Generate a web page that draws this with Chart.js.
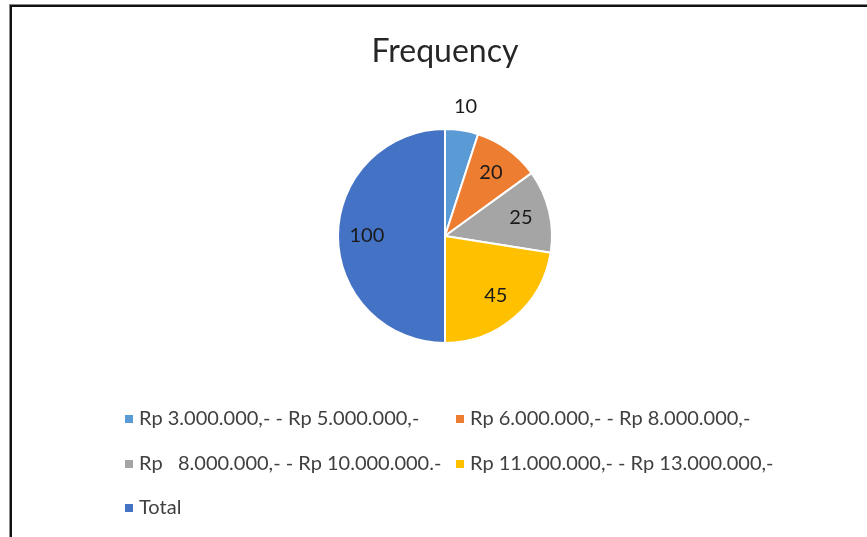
<!DOCTYPE html>
<html>
<head>
<meta charset="utf-8">
<script src="https://cdn.jsdelivr.net/npm/chart.js@4.4.1/dist/chart.umd.min.js"></script>
<style>
  html, body { margin: 0; padding: 0; background: #fff; }
  #wrap { position: relative; width: 867px; height: 537px; overflow: hidden; }
  #frame {
    position: absolute; left: 10px; top: 5px; width: 900px; height: 600px;
    border-top: 2px solid #111; border-left: 2px solid #111;
    box-shadow: -1px -1px 0 #888; pointer-events: none;
  }
  canvas { position: absolute; left: 0; top: 0; }
</style>
</head>
<body>
<div id="wrap">
  <canvas id="chart" width="867" height="537"></canvas>
  <div id="frame"></div>
</div>
<script>
// Income brackets and how many respondents fall in each
const categories = [
  'Rp 3.000.000,- - Rp 5.000.000,-',
  'Rp 6.000.000,- - Rp 8.000.000,-',
  'Rp   8.000.000,- - Rp 10.000.000.-',
  'Rp 11.000.000,- - Rp 13.000.000,-',
  'Total'
];
const frequency = [10, 20, 25, 45, 100];
const sliceColors = ['#5B9BD5', '#ED7D31', '#A5A5A5', '#FFC000', '#4472C4'];

const FONT = 'Lato, "Open Sans", sans-serif';

// Value labels: inside the slice, or just outside when the slice is too thin
const valueLabels = {
  id: 'valueLabels',
  afterDatasetsDraw(chart) {
    const ctx = chart.ctx;
    const meta = chart.getDatasetMeta(0);
    const values = chart.data.datasets[0].data;
    ctx.save();
    ctx.font = '20px ' + FONT;
    ctx.fillStyle = '#1a1a1a';
    ctx.textAlign = 'center';
    ctx.textBaseline = 'middle';
    meta.data.forEach((arc, i) => {
      const p = arc.getProps(['x', 'y', 'startAngle', 'endAngle', 'outerRadius'], true);
      const mid = (p.startAngle + p.endAngle) / 2;
      const span = p.endAngle - p.startAngle;
      const r = span < 0.4 ? p.outerRadius + 24 : p.outerRadius * 0.73;
      ctx.fillText(String(values[i]), p.x + Math.cos(mid) * r, p.y + Math.sin(mid) * r);
    });
    ctx.restore();
  }
};

// Two-column legend laid out in fixed columns under the pie
const gridLegend = {
  id: 'gridLegend',
  afterDraw(chart) {
    const ctx = chart.ctx;
    const colX = [125, 456];
    const rowY = [419, 464, 508];
    ctx.save();
    ctx.font = '20px ' + FONT;
    ctx.textBaseline = 'middle';
    ctx.textAlign = 'left';
    chart.data.labels.forEach((label, i) => {
      const x = colX[i % 2];
      const y = rowY[Math.floor(i / 2)];
      ctx.fillStyle = chart.data.datasets[0].backgroundColor[i];
      ctx.fillRect(x, y - 4, 8, 8);
      ctx.fillStyle = '#404040';
      ctx.fillText(label, x + 14, y);
    });
    ctx.restore();
  }
};

new Chart(document.getElementById('chart'), {
  type: 'pie',
  data: {
    labels: categories,
    datasets: [{
      data: frequency,
      backgroundColor: sliceColors,
      borderColor: '#ffffff',
      borderWidth: 2
    }]
  },
  options: {
    responsive: false,
    animation: false,
    layout: { padding: { left: 23, right: 0, top: 0, bottom: 193 } },
    plugins: {
      legend: { display: false },
      tooltip: { enabled: false },
      title: {
        display: true,
        text: 'Frequency',
        color: '#262626',
        font: { family: FONT, size: 32, weight: 'normal' },
        padding: { top: 32, bottom: 57.6 }
      }
    }
  },
  plugins: [valueLabels, gridLegend]
});
</script>
</body>
</html>
